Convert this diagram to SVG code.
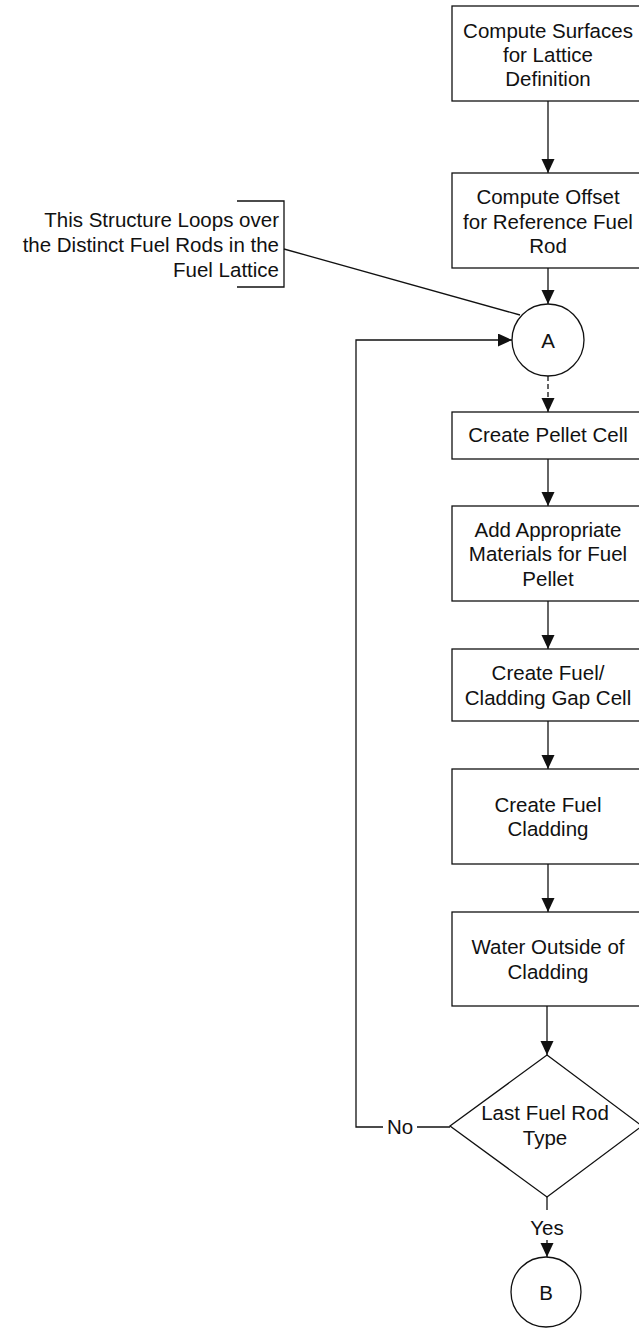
<svg xmlns="http://www.w3.org/2000/svg" width="639" height="1328" viewBox="0 0 639 1328">
<style>
.box{fill:#fff;stroke:#111;stroke-width:1.3}
.ln{fill:none;stroke:#111;stroke-width:1.3}
.t{font-family:"Liberation Sans",Arial,sans-serif;font-size:20.5px;fill:#111;text-anchor:middle}
.tr{font-family:"Liberation Sans",Arial,sans-serif;font-size:20.5px;fill:#111;text-anchor:end}
</style>
<defs>
<marker id="arr" markerUnits="userSpaceOnUse" markerWidth="16" markerHeight="14" refX="14" refY="6.5" orient="auto">
<path d="M0,0 L14,6.5 L0,13 z" fill="#111"/>
</marker>
</defs>
<rect width="639" height="1328" fill="#fff"/>
<g id="connectors">
<line class="ln" x1="548" y1="101" x2="548" y2="173" marker-end="url(#arr)"/>
<line class="ln" x1="548" y1="268" x2="548" y2="304" marker-end="url(#arr)"/>
<line class="ln" x1="548" y1="376" x2="548" y2="412" stroke-dasharray="5,3" marker-end="url(#arr)"/>
<line class="ln" x1="548" y1="459" x2="548" y2="506" marker-end="url(#arr)"/>
<line class="ln" x1="548" y1="601" x2="548" y2="649" marker-end="url(#arr)"/>
<line class="ln" x1="548" y1="721" x2="548" y2="769" marker-end="url(#arr)"/>
<line class="ln" x1="548" y1="864" x2="548" y2="912" marker-end="url(#arr)"/>
<line class="ln" x1="547" y1="1006" x2="547" y2="1055" marker-end="url(#arr)"/>
<line class="ln" x1="547" y1="1197" x2="547" y2="1210"/>
<line class="ln" x1="547" y1="1240" x2="547" y2="1257" marker-end="url(#arr)"/>
<text class="t" x="547" y="1235">Yes</text>
<polyline class="ln" points="450,1127 417,1127"/>
<polyline class="ln" points="383,1127 356,1127 356,340 512,340" marker-end="url(#arr)"/>
<text class="t" x="400" y="1134">No</text>
<line class="ln" x1="284" y1="249" x2="520" y2="315"/>
</g>
<g id="annotation">
<polyline class="ln" points="237,201 284,201 284,287 237,287"/>
<text class="tr" x="279" y="227">This Structure Loops over</text>
<text class="tr" x="279" y="252">the Distinct Fuel Rods in the</text>
<text class="tr" x="279" y="277">Fuel Lattice</text>
</g>
<g id="n1">
<rect class="box" x="452" y="6" width="193" height="95"/>
<text class="t" x="548" y="38">Compute Surfaces</text>
<text class="t" x="548" y="62">for Lattice</text>
<text class="t" x="548" y="86">Definition</text>
</g>
<g id="n2">
<rect class="box" x="452" y="173" width="193" height="95"/>
<text class="t" x="548" y="204">Compute Offset</text>
<text class="t" x="548" y="229">for Reference Fuel</text>
<text class="t" x="548" y="253">Rod</text>
</g>
<g id="nA">
<circle class="box" cx="548" cy="340" r="36"/>
<text class="t" x="548" y="348">A</text>
</g>
<g id="n3">
<rect class="box" x="452" y="412" width="193" height="47"/>
<text class="t" x="548" y="442">Create Pellet Cell</text>
</g>
<g id="n4">
<rect class="box" x="452" y="506" width="193" height="95"/>
<text class="t" x="548" y="537">Add Appropriate</text>
<text class="t" x="548" y="561">Materials for Fuel</text>
<text class="t" x="548" y="586">Pellet</text>
</g>
<g id="n5">
<rect class="box" x="452" y="649" width="193" height="72"/>
<text class="t" x="548" y="680">Create Fuel/</text>
<text class="t" x="548" y="705">Cladding Gap Cell</text>
</g>
<g id="n6">
<rect class="box" x="452" y="769" width="193" height="95"/>
<text class="t" x="548" y="812">Create Fuel</text>
<text class="t" x="548" y="836">Cladding</text>
</g>
<g id="n7">
<rect class="box" x="452" y="912" width="193" height="94"/>
<text class="t" x="548" y="954">Water Outside of</text>
<text class="t" x="548" y="979">Cladding</text>
</g>
<g id="n8">
<polygon class="box" points="547,1055 642,1126 547,1197 450,1126"/>
<text class="t" x="545" y="1120">Last Fuel Rod</text>
<text class="t" x="545" y="1145">Type</text>
</g>
<g id="nB">
<circle class="box" cx="546" cy="1292" r="35"/>
<text class="t" x="546" y="1300">B</text>
</g>
</svg>
